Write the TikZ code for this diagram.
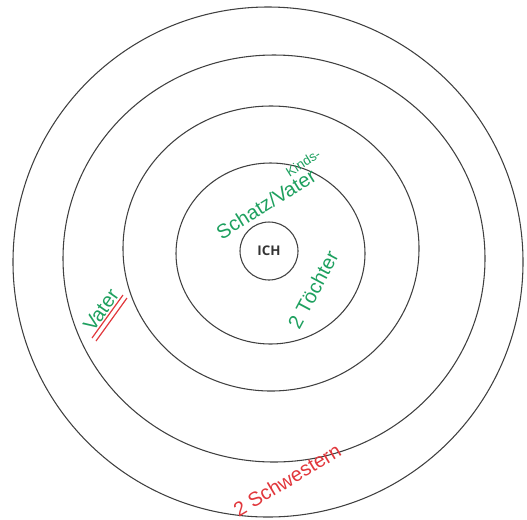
\documentclass[tikz,border=0pt]{standalone}
\usepackage{fontspec}
\setsansfont{Open Sans}
\newfontfamily\handfont{Liberation Sans}
\definecolor{handgreen}{RGB}{30,160,95}
\definecolor{handred}{RGB}{225,55,60}
\tikzset{
  ring/.style={draw=black!75,line width=0.8pt},
  greenword/.style={text=handgreen,font=\handfont\fontsize{15}{15}\selectfont,inner sep=0pt},
  redword/.style={text=handred,font=\handfont\fontsize{15}{15}\selectfont,inner sep=0pt},
}
\begin{document}
\begin{tikzpicture}[x=0.75pt,y=-0.75pt]
	\useasboundingbox (0,0) rectangle (527,519);
	% rings
	\draw[ring] (270.5,253.5) ellipse [x radius=94.5,y radius=90.5];
	\draw[ring] (271,248.5) ellipse [x radius=148,y radius=142.5];
	\draw[ring] (274,258.5) ellipse [x radius=211,y radius=203.5];
	\draw[ring] (268,262) circle [radius=255];
	\node[ring,circle,minimum size=43.5pt,inner sep=0pt,font=\sffamily\bfseries\fontsize{10}{12}\selectfont,text=black!80] (ich) at (269,251) {ICH};
	% labels
	\node[greenword,rotate=32] (schatz) at (266,204) {Schatz/Vater};
	\node[greenword,rotate=32,font=\handfont\fontsize{10}{10}\selectfont] (kinds) at (303,163) {Kinds-};
	\node[greenword,rotate=62] (toechter) at (313,290) {2 Töchter};
	\node[greenword,rotate=55] (vater) at (101,310) {Vater};
	\draw[handred,line width=0.9pt] (92,338) -- (123,295);
	\draw[handred,line width=0.9pt] (96,341) -- (127,298);
	\node[redword,rotate=31] (schwestern) at (287,480) {2 Schwestern};
\end{tikzpicture}
\end{document}
